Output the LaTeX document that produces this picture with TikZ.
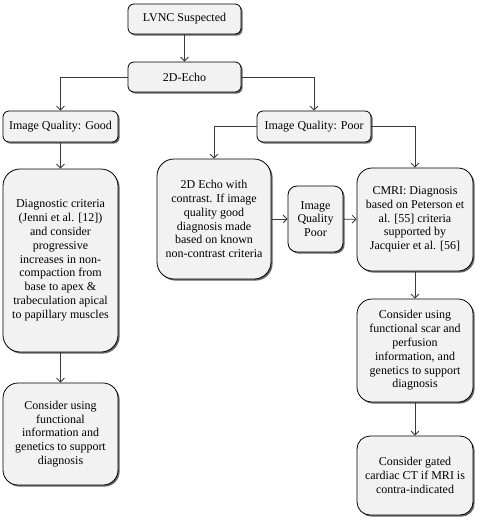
\documentclass[tikz,border=0pt]{standalone}
\usepackage{fontspec}
\setmainfont{Liberation Serif}
\newfontfamily\tnrfont{Liberation Serif}
\usetikzlibrary{arrows.meta,shadows}
\begin{document}
\begin{tikzpicture}[x=1pt,y=-1pt,
  box/.style={draw=black, line width=0.8pt, fill=boxfill, align=center,
    font=\tnrfont\fontsize{12}{13.8}\selectfont, inner sep=1pt,
    drop shadow={shadow xshift=1.6pt, shadow yshift=-1.6pt, fill=black!75, opacity=0.8}},
  conn/.style={draw=linecol, line width=0.8pt, -{Straight Barb[length=4pt,width=8pt]}}
]
\definecolor{boxfill}{HTML}{F2F2F2}
\definecolor{linecol}{HTML}{3A3A3A}
\useasboundingbox (0,0) rectangle (480,525);

\node[box, rounded corners=6pt, minimum width=113pt, minimum height=30pt] (lvnc) at (184.5,19) {LVNC Suspected};
\node[box, rounded corners=6pt, minimum width=113pt, minimum height=30pt] (echo) at (184.5,77) {2D-Echo};
\node[box, rounded corners=6pt, minimum width=115pt, minimum height=31pt] (good) at (60.5,126.5) {Image Quality: Good};
\node[box, rounded corners=6pt, minimum width=114pt, minimum height=31pt] (poor) at (314,126.5) {Image Quality: Poor};

\node[box, rounded corners=17pt, minimum width=115pt, minimum height=183pt] (diag) at (60.5,260.5)
  {Diagnostic criteria\\(Jenni et al. [12])\\and consider\\progressive\\increases in non-\\compaction from\\base to apex \&\\trabeculation apical\\to papillary muscles};
\node[box, rounded corners=15pt, minimum width=115pt, minimum height=102pt] (func) at (60.5,434)
  {Consider using\\functional\\information and\\genetics to support\\diagnosis};

\node[box, rounded corners=17pt, minimum width=114pt, minimum height=120pt] (contrast) at (214,219)
  {2D Echo with\\contrast. If image\\quality good\\diagnosis made\\based on known\\non-contrast criteria};
\node[box, rounded corners=9pt, minimum width=55pt, minimum height=66pt] (iqp) at (315.5,219)
  {Image\\Quality\\Poor};
\node[box, rounded corners=15pt, minimum width=116pt, minimum height=103pt] (cmri) at (415,219.5)
  {CMRI: Diagnosis\\based on Peterson et\\al. [55] criteria\\supported by\\Jacquier et al. [56]};
\node[box, rounded corners=15pt, minimum width=116pt, minimum height=103pt] (scar) at (415,350.5)
  {Consider using\\functional scar and\\perfusion\\information, and\\genetics to support\\diagnosis};
\node[box, rounded corners=13pt, minimum width=116pt, minimum height=79pt] (gated) at (415,475.5)
  {Consider gated\\cardiac CT if MRI is\\contra-indicated};

\draw[conn] (lvnc) -- (echo);
\draw[conn] (echo.west) -| (good.north);
\draw[conn] (echo.east) -| (poor.north);
\draw[conn] (poor.west) -| (contrast.north);
\draw[conn] (poor.east) -| (cmri.north);
\draw[conn] (good) -- (diag);
\draw[conn] (diag) -- (func);
\draw[conn] (contrast) -- (iqp);
\draw[conn] (iqp) -- (cmri);
\draw[conn] (cmri) -- (scar);
\draw[conn] (scar) -- (gated);
\end{tikzpicture}
\end{document}
